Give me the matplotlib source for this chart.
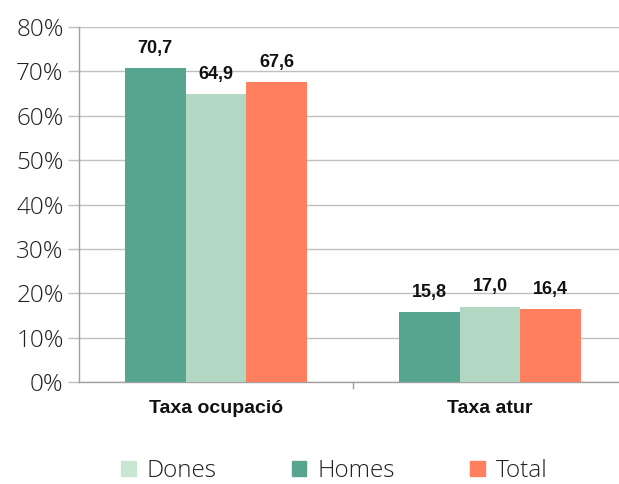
import matplotlib.pyplot as plt
import numpy as np
from matplotlib.patches import Patch

categories = ["Taxa ocupació", "Taxa atur"]
homes = [70.7, 15.8]
dones = [64.9, 17.0]
total = [67.6, 16.4]
yticks = [0, 10, 20, 30, 40, 50, 60, 70, 80]

HOMES_COLOR = "#58a58f"
DONES_COLOR = "#b2d8c3"
TOTAL_COLOR = "#ff7f5e"

BOLD_FONT = ["Liberation Sans", "DejaVu Sans"]
LIGHT_FONT = ["Open Sans", "DejaVu Sans"]

fig = plt.figure(figsize=(6.19, 4.84), dpi=100)
ax = fig.add_axes([0.1276, 0.2107, 0.8724, 0.7333])

x = np.arange(len(categories))
w = 0.222
series = [(homes, HOMES_COLOR, -w), (dones, DONES_COLOR, 0), (total, TOTAL_COLOR, w)]
for vals, color, off in series:
    bars = ax.bar(x + off, vals, width=w, color=color, zorder=3)
    for b, v in zip(bars, vals):
        ax.annotate(f"{v:.1f}".replace(".", ","),
                    (b.get_x() + b.get_width() / 2, v),
                    xytext=(0, 8), textcoords="offset points",
                    ha="center", va="bottom", fontsize=13, fontweight="bold",
                    family=BOLD_FONT, color="#111111")

ax.set_ylim(0, 80)
ax.set_xlim(-0.5, -0.5 + 540 / 274)
ax.set_yticks(yticks)
ax.set_yticklabels([f"{t}%" for t in yticks], fontsize=17.5, fontweight="light",
                   family=LIGHT_FONT, color="#222222")
ax.yaxis.grid(True, color="#c0c0c0", linewidth=1, zorder=0)
ax.tick_params(axis="y", length=8, color="#c0c0c0", width=1, pad=3)

ax.set_xticks(x)
ax.set_xticklabels(categories, fontsize=14, fontweight="bold", family=BOLD_FONT,
                   color="#111111")
ax.tick_params(axis="x", which="major", length=0, pad=13)
ax.set_xticks([0.5], minor=True)
ax.tick_params(axis="x", which="minor", length=5, color="#a0a0a0", width=1)

for side in ["top", "right"]:
    ax.spines[side].set_visible(False)
for side in ["left", "bottom"]:
    ax.spines[side].set_color("#a0a0a0")
    ax.spines[side].set_linewidth(1)

handles = [Patch(color="#c8e6d2", label="Dones"),
           Patch(color=HOMES_COLOR, label="Homes"),
           Patch(color=TOTAL_COLOR, label="Total")]
leg = fig.legend(handles=handles, loc="center", bbox_to_anchor=(0.540, 0.027),
                 ncol=3, frameon=False, handlelength=0.6, handleheight=0.6,
                 columnspacing=3.1, handletextpad=0.45, borderpad=0.2,
                 prop={"size": 17.5, "weight": "light", "family": LIGHT_FONT})
for t in leg.get_texts():
    t.set_color("#222222")

fig.savefig("out.png", dpi=100)
